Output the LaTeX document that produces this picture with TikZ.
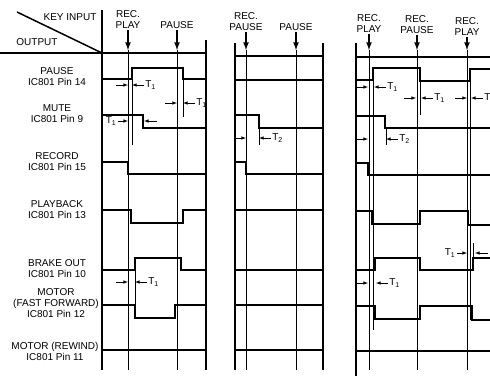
\documentclass[tikz,border=0pt]{standalone}
\usepackage{fontspec}
\setmainfont{Liberation Sans}

\begin{document}
\begin{tikzpicture}[x=1pt, y=-1pt, >=latex, font=\fontsize{10}{11}\selectfont,
  signal/.style={line width=2.6pt},
  rahmen/.style={line width=1.5pt},
  ereignis/.style={line width=0.9pt},
  hilfs/.style={line width=0.6pt},
  mass/.style={->, line width=0.6pt},
  taste/.style={->, line width=1.6pt, shorten <=1pt},
  beschr/.style={align=center, inner sep=0pt}]
\useasboundingbox (0,0) rectangle (490,376);
% Kopfzeile
\draw[rahmen] (17,12) -- (102,53);
\draw[rahmen] (0,53) -- (206,53);
\draw[rahmen] (235,56) -- (323,56);
\draw[rahmen] (356,57) -- (490,57);
\node[beschr] (keyinput) at (70,17) {KEY INPUT};
\node[beschr] (output) at (37,42) {OUTPUT};
% Rahmen der drei Ablaeufe
\draw[rahmen] (102,10) -- (102,370);
\draw[rahmen] (206,40) -- (206,370);
\draw[rahmen] (235,43) -- (235,370);
\draw[rahmen] (323,43) -- (323,370);
\draw[rahmen] (356,43) -- (356,376);
% Tasten und Ereignislinien
\foreach \x/\y/\n/\t in {128/20/ka/{REC.\\PLAY}, 177/25/kb/{PAUSE},
    246/22/kc/{REC.\\PAUSE}, 296/27/kd/{PAUSE},
    369/24/ke/{REC.\\PLAY}, 417/25/kf/{REC.\\PAUSE}, 467/27/kg/{REC.\\PLAY}}
  {
  \node[beschr] (\n) at (\x,\y) {\t};
  \coordinate (\n-e) at (\x,50);
  \draw[taste] (\n.south) -- (\n-e);
  \draw[ereignis] (\n-e) -- (\x,370);
  }
% Ausgaenge beschriften
\node[beschr] (pause) at (57,77) {PAUSE\\IC801 Pin 14};
\node[beschr] (mute) at (57,114) {MUTE\\IC801 Pin 9};
\node[beschr] (record) at (57,162) {RECORD\\IC801 Pin 15};
\node[beschr] (playback) at (57,210) {PLAYBACK\\IC801 Pin 13};
\node[beschr] (brake) at (57,269) {BRAKE OUT\\IC801 Pin 10};
\node[beschr] (motorff) at (56,303) {MOTOR\\(FAST FORWARD)\\IC801 Pin 12};
\node[beschr] (motorrew) at (55,351) {MOTOR (REWIND)\\IC801 Pin 11};
% Signale: REC. PLAY -> PAUSE
\draw[signal] (102,79) -| (132,68) -| (183,79) -- (206,79);
\draw[signal] (102,115) -| (143,128) -- (206,128);
\draw[signal] (102,162) -| (128,174) -- (206,174);
\draw[signal] (102,210) -| (131,223) -| (183,210) -- (206,210);
\draw[signal] (102,270) -| (135,258) -| (181,270) -- (206,270);
\draw[signal] (102,305) -| (135,318) -| (175,305) -- (206,305);
\draw[signal] (102,350) -- (206,350);
% Signale: REC. PAUSE -> PAUSE
\draw[signal] (235,80) -- (323,80);
\draw[signal] (235,115) -| (259,128) -- (323,128);
\draw[signal] (235,162) -| (246,174) -- (323,174);
\draw[signal] (235,210) -- (323,210);
\draw[signal] (235,270) -- (323,270);
\draw[signal] (235,305) -- (323,305);
\draw[signal] (235,350) -- (323,350);
% Signale: REC. PLAY -> REC. PAUSE -> REC. PLAY
\draw[signal] (356,80) -| (373,68) -| (420,81) -| (470,69) -- (490,69);
\draw[signal] (356,116) -| (385,128) -- (490,128);
\draw[signal] (356,163) -| (368,175) -- (490,175);
\draw[signal] (356,211) -| (372,224) -| (420,211) -| (468,225) -- (490,225);
\draw[signal] (356,270) -| (375,258) -| (420,270) -| (473,258) -- (490,258);
\draw[signal] (356,306) -| (375,319) -| (420,306) -| (472,320) -- (490,320);
\draw[signal] (356,351) -- (490,351);
% Hilfslinien
\draw[hilfs] (132,68) -- (132,145);
\draw[hilfs] (183,79) -- (183,117);
\draw[hilfs] (135,270) -- (135,305);
\draw[hilfs] (259,128) -- (259,145);
\draw[hilfs] (373,68) -- (373,330);
\draw[hilfs] (420,81) -- (420,115);
\draw[hilfs] (386,128) -- (386,145);
\draw[hilfs] (470,69) -- (470,320);
\draw[hilfs] (473,258) -- (473,243);
% Verzoegerungszeiten
\foreach \y/\a/\b/\t in {85/128/132/1, 103/177/183/1, 282/128/135/1, 138/246/259/2,
    87/368/374/1, 98/416/421/1, 98/467/471/1, 139/368/386/2, 283/368/376/1}
  {
  \draw[mass] (\a-12,\y) -- (\a,\y);
  \draw[mass] (\b+12,\y) node[right=1pt, inner sep=0pt] (t-\y-\a) {T\textsubscript{\t}} -- (\b,\y);
  }
\node[inner sep=0pt] (tmute) at (111,121) {T\textsubscript{1}};
\draw[mass] (tmute.east) ++(2,0) -- (128,121);
\draw[mass] (157,121) -- (144,121);
\node[inner sep=0pt] (tbrake) at (450,253) {T\textsubscript{1}};
\draw[mass] (tbrake.east) ++(2,0) -- (467,253);
\draw[mass] (488,253) -- (475,253);
\end{tikzpicture}
\end{document}
